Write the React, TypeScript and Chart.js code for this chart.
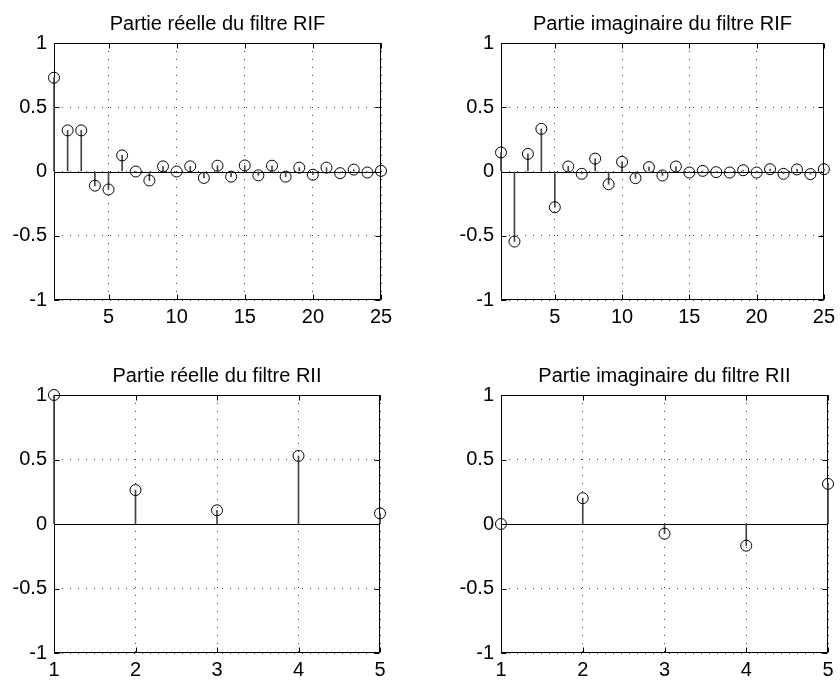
import React, { useEffect, useRef } from 'react';
import { Chart, registerables } from 'chart.js';

Chart.register(...registerables);

// ---- data ----
const firIndex = [1, 2, 3, 4, 5, 6, 7, 8, 9, 10, 11, 12, 13, 14, 15, 16, 17, 18, 19, 20, 21, 22, 23, 24, 25];
const firReal = [0.73, 0.32, 0.32, -0.11, -0.14, 0.125, 0.0, -0.07, 0.04, 0.0, 0.04, -0.05, 0.045, -0.04, 0.047, -0.03, 0.045, -0.04, 0.03, -0.025, 0.03, -0.013, 0.015, -0.008, 0.005];
const firImag = [0.148, -0.545, 0.137, 0.332, -0.278, 0.039, -0.018, 0.1, -0.099, 0.075, -0.052, 0.034, -0.031, 0.039, -0.008, 0.005, -0.005, -0.008, 0.01, -0.008, 0.018, -0.018, 0.016, -0.02, 0.018];
const iirIndex = [1, 2, 3, 4, 5];
const iirReal = [1.0, 0.263, 0.106, 0.528, 0.082];
const iirImag = [0.0, 0.2, -0.075, -0.168, 0.311];
const firXTicks = [5, 10, 15, 20, 25];
const iirXTicks = [1, 2, 3, 4, 5];
const yTicks = [-1, -0.5, 0, 0.5, 1];
const yTickLabels = ['-1', '-0.5', '0', '0.5', '1'];

const titles = [
  'Partie réelle du filtre RIF',
  'Partie imaginaire du filtre RIF',
  'Partie réelle du filtre RII',
  'Partie imaginaire du filtre RII',
];

const FONT = "'Liberation Sans', Arial, Helvetica, sans-serif";
const TITLE_SIZE = 20;
const TICK_SIZE = 20;

const framePlugin = {
  id: 'matlabFrame',
  beforeDatasetsDraw(chart: any) {
    const { ctx, chartArea, scales } = chart;
    const { left, right, top, bottom } = chartArea;
    const xs = scales.x;
    const ys = scales.y;
    ctx.save();
    ctx.strokeStyle = '#000';
    ctx.lineWidth = 1;
    ctx.setLineDash([]);
    // zero line
    const y0 = Math.round(ys.getPixelForValue(0)) + 0.5;
    ctx.beginPath();
    ctx.moveTo(left, y0);
    ctx.lineTo(right, y0);
    ctx.stroke();
    // box
    const L = Math.round(left) + 0.5;
    const R = Math.round(right) - 0.5;
    const T = Math.round(top) + 0.5;
    const B = Math.round(bottom) - 0.5;
    ctx.beginPath();
    ctx.rect(L, T, R - L, B - T);
    ctx.stroke();
    // inward ticks
    const tl = 5;
    ctx.beginPath();
    xs.ticks.forEach((t: any) => {
      const px = Math.round(xs.getPixelForValue(t.value)) + 0.5;
      ctx.moveTo(px, B);
      ctx.lineTo(px, B - tl);
      ctx.moveTo(px, T);
      ctx.lineTo(px, T + tl);
    });
    ys.ticks.forEach((t: any) => {
      const py = Math.round(ys.getPixelForValue(t.value)) + 0.5;
      ctx.moveTo(L, py);
      ctx.lineTo(L + tl, py);
      ctx.moveTo(R, py);
      ctx.lineTo(R - tl, py);
    });
    ctx.stroke();
    ctx.restore();
  },
};

type Spec = {
  title: string;
  xs: number[];
  ys: number[];
  xTicks: number[];
  xMin: number;
  xMax: number;
  left: number;
  top: number;
  w: number;
  h: number;
  aL: number;
  aT: number;
  aR: number;
  aB: number;
  titleY: number;
};

function StemPlot({ spec }: { spec: Spec }) {
  const ref = useRef<HTMLCanvasElement | null>(null);
  useEffect(() => {
    if (!ref.current) return;
    const s = spec;
    const pts = s.xs.map((x, i) => ({ x, y: s.ys[i] }));
    const lh = TITLE_SIZE * 1.2;
    const chart = new Chart(ref.current, {
      type: 'bar',
      data: {
        datasets: [
          {
            type: 'scatter',
            data: pts,
            showLine: false,
            pointStyle: 'circle',
            pointRadius: 5.5,
            pointHoverRadius: 5.5,
            pointBorderWidth: 1,
            pointBackgroundColor: 'rgba(0,0,0,0)',
            pointBorderColor: '#000',
            borderColor: '#000',
            order: 1,
            clip: false,
          } as any,
          {
            type: 'bar',
            data: pts,
            barThickness: 1,
            backgroundColor: '#444',
            borderWidth: 0,
            order: 2,
            clip: false,
          } as any,
        ],
      },
      options: {
        animation: false,
        responsive: false,
        events: [],
        layout: {
          autoPadding: false,
          padding: { left: 0, top: 0, bottom: 0, right: s.w - s.aR },
        },
        plugins: {
          legend: { display: false },
          tooltip: { enabled: false },
          title: {
            display: true,
            text: s.title,
            fullSize: false,
            color: '#000',
            font: { family: FONT, size: TITLE_SIZE, weight: 'normal', lineHeight: 1.2 },
            padding: { top: s.titleY - lh / 2, bottom: s.aT - s.titleY - lh / 2 },
          },
        },
        scales: {
          x: {
            type: 'linear',
            min: s.xMin,
            max: s.xMax,
            offset: false,
            afterBuildTicks: (sc: any) => {
              sc.ticks = s.xTicks.map((v) => ({ value: v }));
            },
            afterFit: (sc: any) => {
              sc.height = s.h - s.aB;
            },
            grid: {
              color: 'rgba(0,0,0,0.75)',
              lineWidth: 1,
              drawTicks: false,
              offset: false,
            },
            border: { display: false, dash: [1, 7] },
            ticks: {
              color: '#000',
              padding: 5,
              maxRotation: 0,
              autoSkip: false,
              font: { family: FONT, size: TICK_SIZE },
              callback: (v: any) => String(v),
            },
          },
          y: {
            type: 'linear',
            min: -1,
            max: 1,
            afterBuildTicks: (sc: any) => {
              sc.ticks = yTicks.map((v) => ({ value: v }));
            },
            afterFit: (sc: any) => {
              sc.width = s.aL;
            },
            grid: {
              color: 'rgba(0,0,0,0.75)',
              lineWidth: 1,
              drawTicks: false,
            },
            border: { display: false, dash: [1, 7] },
            ticks: {
              color: '#000',
              padding: 7,
              autoSkip: false,
              font: { family: FONT, size: TICK_SIZE },
              callback: (v: any) => {
                const i = yTicks.indexOf(Number(v));
                return i >= 0 ? yTickLabels[i] : String(v);
              },
            },
          },
        },
      } as any,
      plugins: [framePlugin],
    });
    return () => chart.destroy();
  }, [spec]);
  return (
    <canvas
      ref={ref}
      width={spec.w}
      height={spec.h}
      style={{ position: 'absolute', left: spec.left, top: spec.top, width: spec.w, height: spec.h }}
    />
  );
}

const specs: Spec[] = [
  { title: titles[0], xs: firIndex, ys: firReal, xTicks: firXTicks, xMin: 1, xMax: 25, left: 0, top: 0, w: 420, h: 341, aL: 54, aT: 43, aR: 381, aB: 300, titleY: 24 },
  { title: titles[1], xs: firIndex, ys: firImag, xTicks: firXTicks, xMin: 1, xMax: 25, left: 420, top: 0, w: 420, h: 341, aL: 81, aT: 43, aR: 408, aB: 300, titleY: 24 },
  { title: titles[2], xs: iirIndex, ys: iirReal, xTicks: iirXTicks, xMin: 1, xMax: 5, left: 0, top: 341, w: 420, h: 341, aL: 54, aT: 54, aR: 380, aB: 312, titleY: 35 },
  { title: titles[3], xs: iirIndex, ys: iirImag, xTicks: iirXTicks, xMin: 1, xMax: 5, left: 420, top: 341, w: 420, h: 341, aL: 81, aT: 54, aR: 408, aB: 312, titleY: 35 },
];

export default function App() {
  return (
    <div style={{ position: 'fixed', left: 0, top: 0, width: 840, height: 682, background: '#fff' }}>
      {specs.map((s, i) => (
        <StemPlot key={i} spec={s} />
      ))}
    </div>
  );
}
